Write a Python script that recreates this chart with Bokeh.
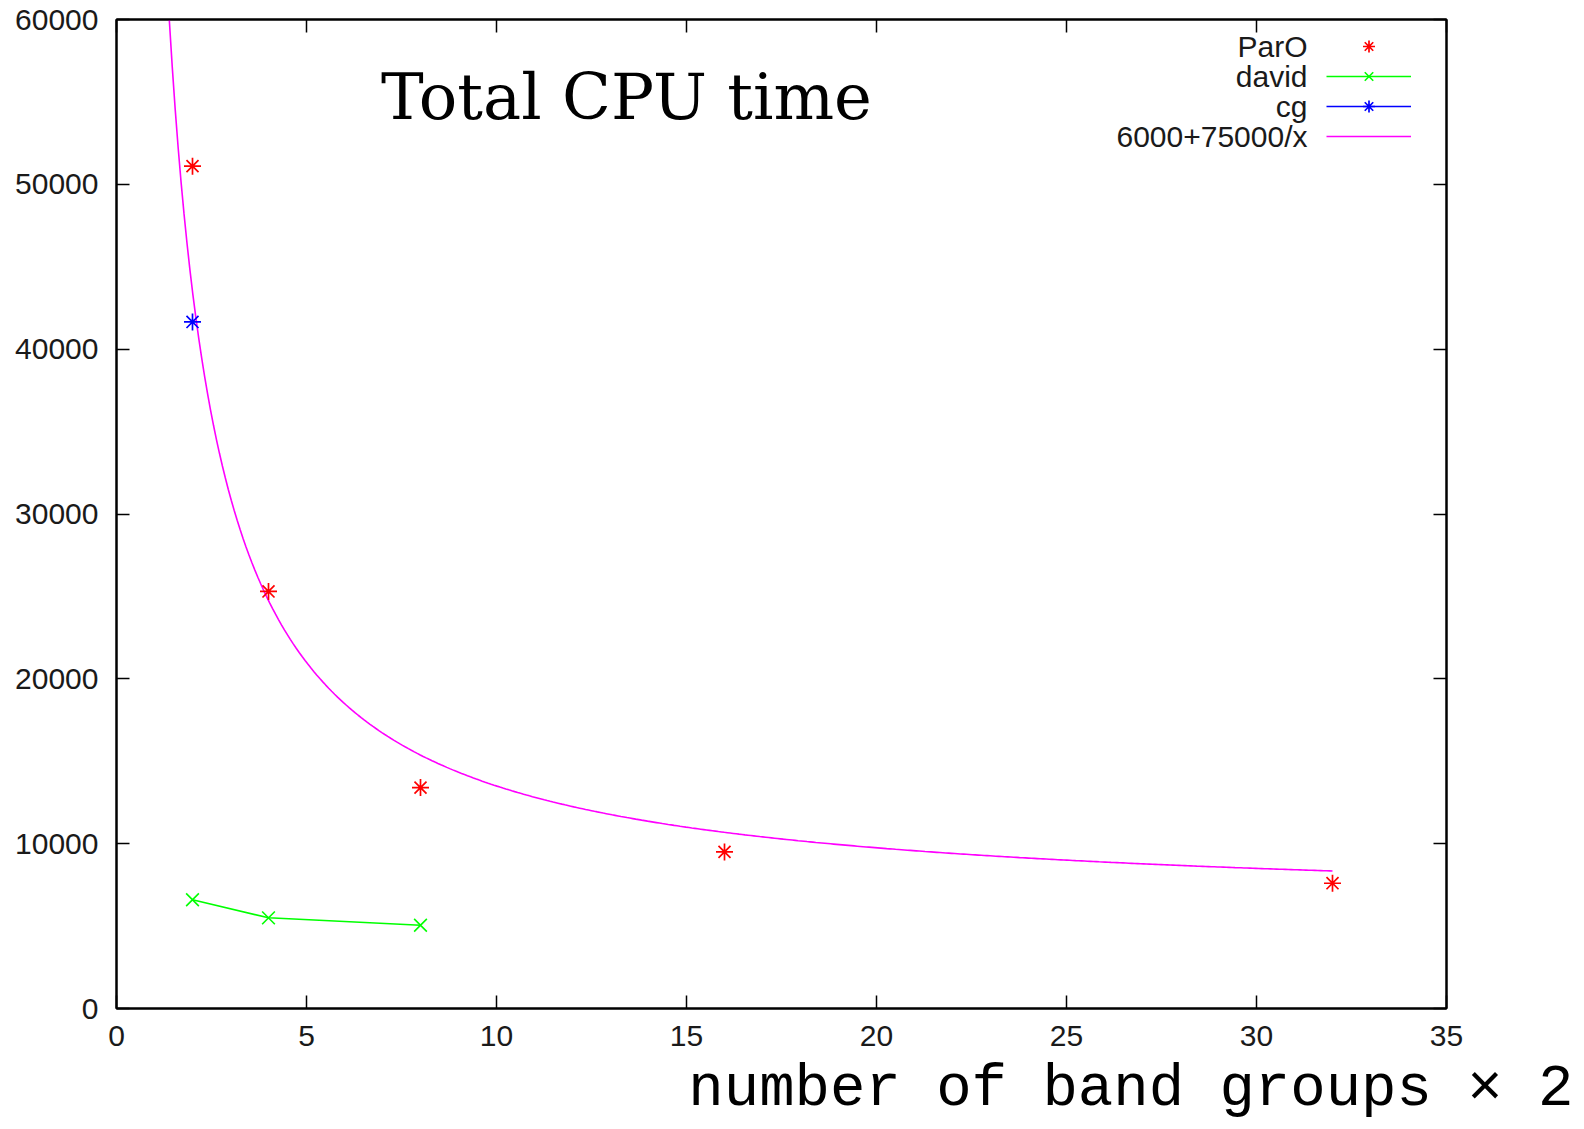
import numpy as np
from bokeh.plotting import figure
from bokeh.models import (LinearAxis, FixedTicker, BasicTickFormatter, Label,
                          Legend, LegendItem, Range1d, Title)
from bokeh.core.properties import value
from bokeh.embed import file_html
from bokeh.resources import INLINE

# ---- data ----
paro_x = [2, 4, 8, 16, 32]
paro_y = [51100, 25300, 13400, 9500, 7600]
david_x = [2, 4, 8]
david_y = [6600, 5500, 5050]
cg_x = [2]
cg_y = [41650]
fit_label = "6000+75000/x"
fit_x = np.linspace(1.0, 32.0, 400)
fit_y = 6000 + 75000 / fit_x
series_names = ["ParO", "david", "cg", fit_label]
x_ticks = [0, 5, 10, 15, 20, 25, 30, 35]
y_ticks = [0, 10000, 20000, 30000, 40000, 50000, 60000]
title_text = "Total CPU time"
xlabel_text = "number of band groups \u00d7 2"

W, H = 1584, 1129
p = figure(width=W, height=H, output_backend="svg", toolbar_location=None,
           x_range=Range1d(0, 35), y_range=Range1d(0, 60000),
           min_border_left=116, min_border_right=138, min_border_top=19,
           min_border_bottom=121, x_axis_type=None, y_axis_type=None)
p.grid.visible = False
p.outline_line_color = "black"
p.outline_line_width = 2
p.background_fill_color = "white"
p.border_fill_color = "white"

tick_font = "Liberation Sans"

def style_axis(ax, labels=True):
    ax.axis_line_color = "black"
    ax.axis_line_width = 2
    ax.major_tick_in = 13
    ax.major_tick_out = 0
    ax.major_tick_line_width = 1.5
    ax.major_tick_line_color = "black"
    ax.minor_tick_line_color = None
    ax.major_label_text_font = tick_font
    if labels:
        ax.major_label_text_font_size = "30px"
        ax.major_label_text_color = "#1a1a1a"
    else:
        ax.major_label_text_font_size = "0px"
        ax.major_label_standoff = 0

xb = LinearAxis(ticker=FixedTicker(ticks=x_ticks),
                formatter=BasicTickFormatter(use_scientific=False))
style_axis(xb)
xb.major_label_standoff = 17
p.add_layout(xb, "below")

yl = LinearAxis(ticker=FixedTicker(ticks=y_ticks),
                formatter=BasicTickFormatter(use_scientific=False))
style_axis(yl)
yl.major_label_standoff = 18
p.add_layout(yl, "left")

xt = LinearAxis(ticker=FixedTicker(ticks=x_ticks))
style_axis(xt, labels=False)
p.add_layout(xt, "above")

yr = LinearAxis(ticker=FixedTicker(ticks=y_ticks))
style_axis(yr, labels=False)
p.add_layout(yr, "right")

# x axis label, right-aligned beyond the frame like the reference
xlab = Title(text=xlabel_text, align="right", offset=-127, standoff=11,
             text_font="Liberation Mono", text_font_size="59px",
             text_font_style="normal", text_color="black")
p.add_layout(xlab, "below")

# ---- glyphs ----
r_fit = p.line(fit_x, fit_y, line_color="#ff00ff", line_width=1.6)
r_david_l = p.line(david_x, david_y, line_color="#00ff00", line_width=1.5)
r_david_m = p.scatter(david_x, david_y, marker="x", size=18,
                      line_color="#00ff00", line_width=1.6)
r_paro = p.scatter(paro_x, paro_y, marker="asterisk", size=17,
                   line_color="#ff0000", line_width=1.7)
r_cg_l = p.line(cg_x, cg_y, line_color="#0000ff", line_width=1.4)
r_cg_m = p.scatter(cg_x, cg_y, marker="asterisk", size=17,
                   line_color="#0000ff", line_width=1.7)

items = [
    LegendItem(label=value(" "), renderers=[r_paro]),
    LegendItem(label=value(" "), renderers=[r_david_l, r_david_m]),
    LegendItem(label=value(" "), renderers=[r_cg_l, r_cg_m]),
    LegendItem(label=value(" "), renderers=[r_fit]),
]
leg = Legend(items=items, location="top_right", margin=12, padding=0,
             spacing=0, glyph_width=85, glyph_height=30, label_height=30,
             label_width=23, label_standoff=0, label_text_font_size="1px",
             border_line_color=None, background_fill_alpha=0)
p.add_layout(leg)

# legend texts (gnuplot style: text left of sample)
row_y0 = 989 - 12 - 15
for i, name in enumerate(series_names):
    p.add_layout(Label(x=1191, y=row_y0 - 30 * i, x_units="screen", y_units="screen",
                       text=name, text_align="right", text_baseline="middle",
                       text_font=tick_font, text_font_size="30px",
                       text_color="#1a1a1a"))

p.add_layout(Label(x=510, y=912, x_units="screen", y_units="screen",
                   text=title_text, text_align="center", text_baseline="alphabetic",
                   text_font="DejaVu Serif", text_font_size="64px", text_color="black"))

open("out.html", "w").write(file_html(p, INLINE))
